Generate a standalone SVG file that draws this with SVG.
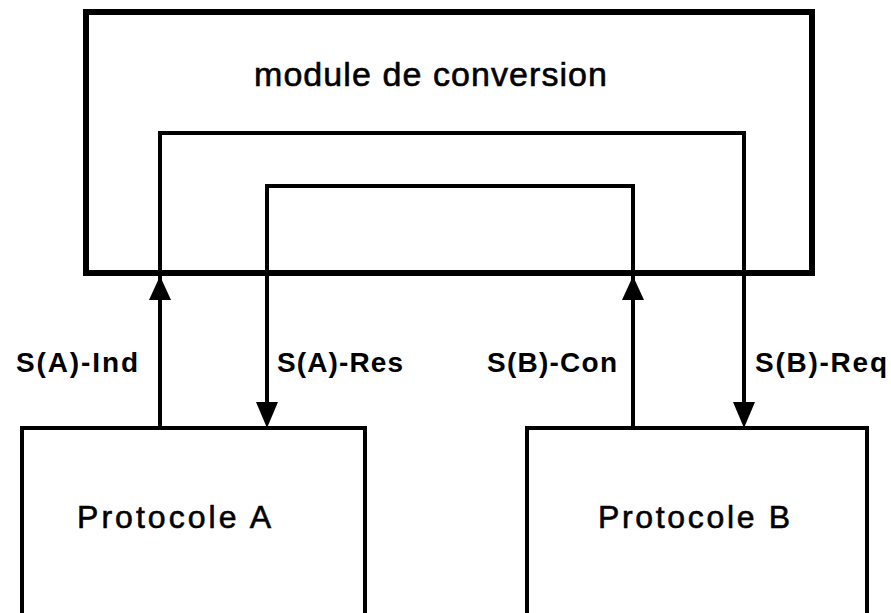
<svg xmlns="http://www.w3.org/2000/svg" width="891" height="613" viewBox="0 0 891 613">
<style>
.box{fill:none;stroke:#000;stroke-width:4}
.outer{fill:none;stroke:#000;stroke-width:6}
.wire{fill:none;stroke:#000;stroke-width:4}
.head{fill:#000;stroke:none}
text{font-family:"Liberation Sans",Arial,sans-serif;fill:#000;stroke:#000;stroke-width:0.6}
.title{font-size:34px}
.lbl{font-size:28px;font-weight:bold;stroke-width:0}
.name{font-size:32px}
</style>
<rect width="891" height="613" fill="#fff"/>
<g id="module">
<rect class="outer" x="86" y="12" width="726" height="261"/>
<text class="title" x="254" y="86" textLength="353" lengthAdjust="spacing">module  de  conversion</text>
</g>
<g id="protocoleA">
<rect class="box" x="22" y="428" width="343" height="200"/>
<text class="name" x="77" y="528" textLength="194" lengthAdjust="spacing">Protocole  A</text>
</g>
<g id="protocoleB">
<rect class="box" x="527" y="428" width="340" height="200"/>
<text class="name" x="598" y="528" textLength="192" lengthAdjust="spacing">Protocole  B</text>
</g>
<g id="connectors">
<path class="wire" d="M160 428 V133 H744 V405"/>
<path class="wire" d="M633 428 V186 H267 V405"/>
<polygon class="head" points="160,276 149,300 171,300"/>
<polygon class="head" points="633,276 622,300 644,300"/>
<polygon class="head" points="267,428 256,402 278,402"/>
<polygon class="head" points="744,428 733,402 755,402"/>
<text class="lbl" x="16" y="372" textLength="122" lengthAdjust="spacing">S(A)-Ind</text>
<text class="lbl" x="277" y="372" textLength="126" lengthAdjust="spacing">S(A)-Res</text>
<text class="lbl" x="487" y="372" textLength="130" lengthAdjust="spacing">S(B)-Con</text>
<text class="lbl" x="755" y="372" textLength="132" lengthAdjust="spacing">S(B)-Req</text>
</g>
</svg>
